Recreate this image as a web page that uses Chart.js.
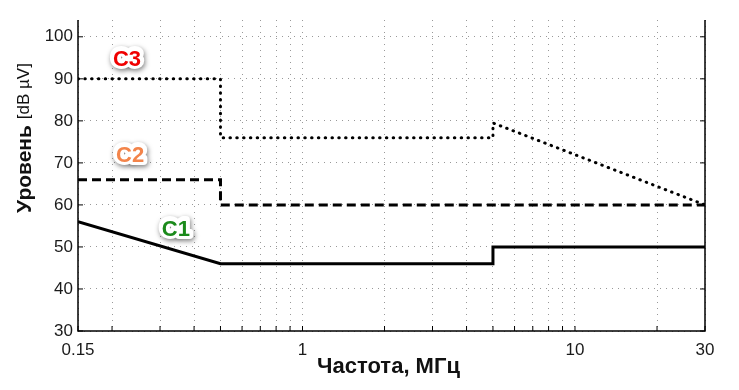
<!DOCTYPE html>
<html><head><meta charset="utf-8">
<script src="https://cdn.jsdelivr.net/npm/chart.js@4"></script>
<style>html,body{margin:0;padding:0;background:#fff}#wrap{width:739px;height:390px}</style>
</head><body><div id="wrap"><canvas id="c" width="739" height="390"></canvas></div>
<script>
// Data
const c1Freq = [0.15, 0.5, 5, 5, 30];
const c1Level = [56, 46, 46, 50, 50];
const c2Freq = [0.15, 0.5, 0.5, 30];
const c2Level = [66, 66, 60, 60];
const c3Freq = [0.15, 0.5, 0.5, 5, 5, 30];
const c3Level = [90, 90, 76, 76, 79.5, 60];
const xGridValues = [0.15,0.2,0.3,0.4,0.5,0.6,0.7,0.8,0.9,1,2,3,4,5,6,7,8,9,10,20,30];
const xTickLabels = [0.15, 1, 10, 30];
const yTickValues = [30,40,50,60,70,80,90,100];
const curveNames = ['C1','C2','C3'];
const nameFreq = [0.343, 0.233, 0.227];
const nameLevel = [54.2, 71.8, 94.8];
const nameColors = ['#1b8a1b','#f3844a','#f00000'];

const pts = (xs, ys) => xs.map((x,i)=>({x, y: ys[i]}));
const FONT = "'Liberation Sans', Arial, sans-serif";

const decor = {
  id: 'decor',
  afterDraw(chart) {
    const ctx = chart.ctx, a = chart.chartArea;
    const xs = chart.scales.x, ys = chart.scales.y;
    ctx.save();
    ctx.strokeStyle = '#000'; ctx.lineWidth = 1.5;
    ctx.beginPath();
    ctx.moveTo(a.left, a.top); ctx.lineTo(a.left, a.bottom); ctx.lineTo(a.right, a.bottom); ctx.lineTo(a.right, a.top);
    ctx.stroke();
    ctx.lineWidth = 1;
    ctx.beginPath();
    yTickValues.forEach(v => {
      const p = ys.getPixelForValue(v);
      ctx.moveTo(a.left, p); ctx.lineTo(a.left + 5, p);
      ctx.moveTo(a.right, p); ctx.lineTo(a.right - 5, p);
    });
    xGridValues.forEach(v => {
      const p = xs.getPixelForValue(v);
      ctx.moveTo(p, a.bottom); ctx.lineTo(p, a.bottom - 5);
    });
    ctx.stroke();
    ctx.restore();
    // y title
    ctx.save();
    ctx.translate(25, 138);
    ctx.rotate(-Math.PI/2);
    ctx.fillStyle = '#111';
    ctx.textBaseline = 'middle';
    const b = "bold 21px " + FONT, n = "17px " + FONT;
    ctx.font = b; const w1 = ctx.measureText('Уровень ').width;
    ctx.font = n; const w2 = ctx.measureText('[dB µV]').width;
    let x0 = -(w1 + w2) / 2;
    ctx.font = b; ctx.textAlign = 'left'; ctx.fillText('Уровень ', x0, 0);
    ctx.font = n; ctx.fillText('[dB µV]', x0 + w1, -1);
    ctx.restore();
    // x title
    ctx.save();
    ctx.font = "bold 22px " + FONT;
    ctx.fillStyle = '#111'; ctx.textAlign = 'center'; ctx.textBaseline = 'middle';
    ctx.fillText('Частота, МГц', (a.left + a.right) / 2 - 3, 367);
    ctx.restore();
    // curve names
    ctx.save();
    ctx.font = "bold 22px " + FONT;
    ctx.textAlign = 'center'; ctx.textBaseline = 'middle';
    curveNames.forEach((t, i) => {
      const px = xs.getPixelForValue(nameFreq[i]);
      const py = ys.getPixelForValue(nameLevel[i]);
      ctx.save();
      ctx.shadowColor = 'rgba(0,0,0,0.5)'; ctx.shadowBlur = 5; ctx.shadowOffsetX = 1; ctx.shadowOffsetY = 2;
      ctx.strokeStyle = '#fff'; ctx.lineWidth = 8; ctx.lineJoin = 'round';
      ctx.strokeText(t, px, py);
      ctx.restore();
      ctx.strokeStyle = '#fff'; ctx.lineWidth = 6; ctx.lineJoin = 'round';
      ctx.strokeText(t, px, py);
      ctx.fillStyle = nameColors[i];
      ctx.fillText(t, px, py + 1);
    });
    ctx.restore();
  }
};

new Chart(document.getElementById('c'), {
  type: 'scatter',
  data: { datasets: [
    { label: 'C1', data: pts(c1Freq, c1Level), showLine: true, borderColor: '#000', borderWidth: 3, pointRadius: 0, borderJoinStyle: 'miter' },
    { label: 'C2', data: pts(c2Freq, c2Level), showLine: true, borderColor: '#000', borderWidth: 3, borderDash: [9,5], pointRadius: 0 },
    { label: 'C3', data: pts(c3Freq, c3Level), showLine: true, borderColor: '#000', borderWidth: 3, borderDash: [0.5,6.3], borderCapStyle: 'round', pointRadius: 0 }
  ]},
  options: {
    responsive: false, animation: false,
    layout: { padding: { left: 0, right: 34, top: 20, bottom: 0 } },
    plugins: { legend: { display: false }, tooltip: { enabled: false } },
    scales: {
      x: {
        type: 'logarithmic', min: 0.15, max: 30,
        afterBuildTicks: s => { s.ticks = xGridValues.map(v => ({ value: v })); },
        afterFit: s => { s.height = 59; },
        ticks: { autoSkip: false, maxRotation: 0, color: '#1a1a1a', font: { family: FONT, size: 17 }, padding: 9,
          callback: v => xTickLabels.includes(v) ? String(v) : '' },
        grid: { color: '#999', lineWidth: 1, drawTicks: false, tickLength: 0 },
        border: { display: false, dash: [1,5] }
      },
      y: {
        min: 30, max: 104,
        afterBuildTicks: s => { s.ticks = yTickValues.map(v => ({ value: v })); },
        afterFit: s => { s.width = 78; },
        ticks: { color: '#1a1a1a', font: { family: FONT, size: 17 }, padding: 5 },
        grid: { color: '#999', lineWidth: 1, drawTicks: false, tickLength: 0 },
        border: { display: false, dash: [1,5] }
      }
    }
  },
  plugins: [decor]
});
</script></body></html>
